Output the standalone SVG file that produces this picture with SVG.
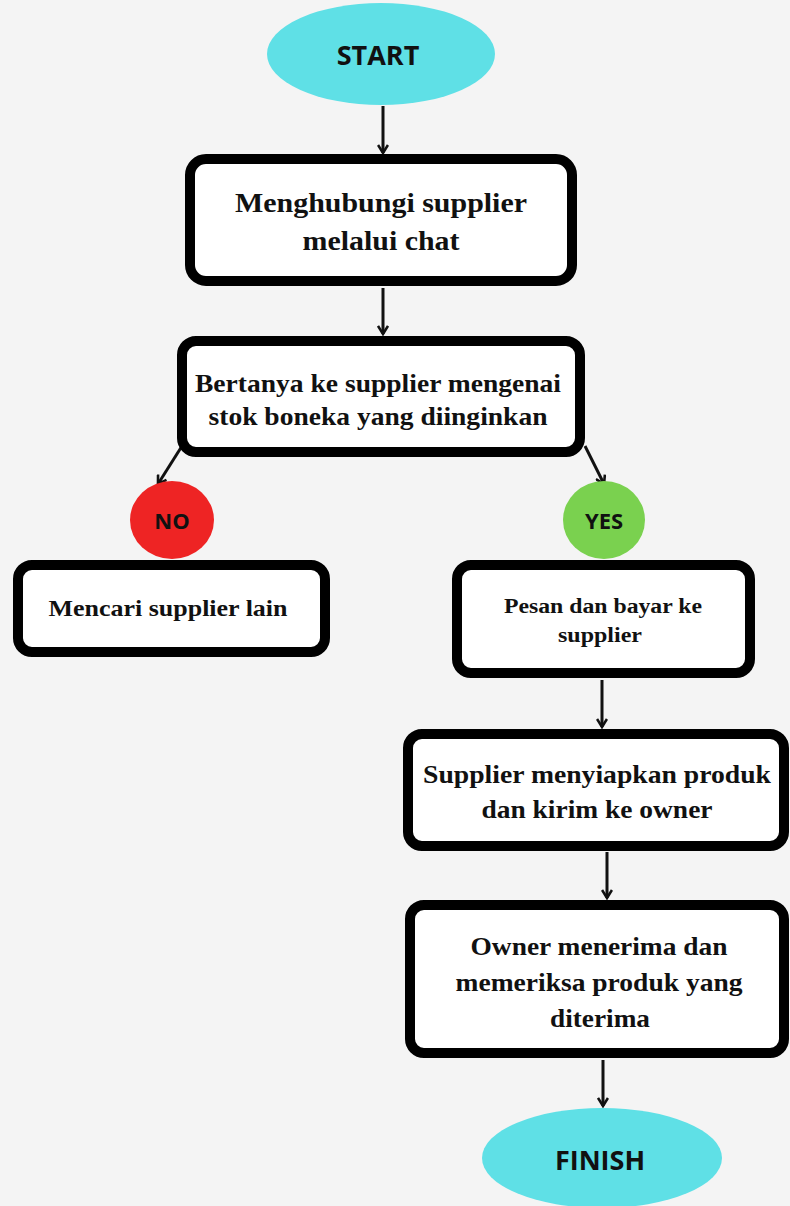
<svg xmlns="http://www.w3.org/2000/svg" width="790" height="1206" viewBox="0 0 790 1206">
<defs>
<style>
.box{fill:#ffffff;stroke:#000000;stroke-width:10}
.t{font-family:"Liberation Serif","Times New Roman",serif;font-weight:bold;fill:#111;text-anchor:middle}
.s{font-family:"Open Sans","Noto Sans",sans-serif;font-weight:bold;fill:#111;text-anchor:middle}
.c{stroke:#111;stroke-width:3;fill:none;marker-end:url(#ah)}
</style>
<marker id="ah" viewBox="0 0 12 12" refX="10" refY="6" markerWidth="12" markerHeight="12" markerUnits="userSpaceOnUse" orient="auto">
<polyline points="2,1 10,6 2,11" fill="none" stroke="#111" stroke-width="2.6"/>
</marker>
</defs>
<rect width="790" height="1206" fill="#f4f4f4"/>
<g id="connectors">
<line class="c" x1="383" y1="106" x2="383" y2="153"/>
<line class="c" x1="383" y1="288" x2="383" y2="334"/>
<line class="c" x1="182" y1="446" x2="158" y2="484"/>
<line class="c" x1="585" y1="446" x2="604" y2="484"/>
<line class="c" x1="602" y1="680" x2="602" y2="727"/>
<line class="c" x1="607" y1="852" x2="607" y2="898"/>
<line class="c" x1="603" y1="1060" x2="603" y2="1106"/>
</g>
<g id="start">
<ellipse cx="381" cy="54" rx="114" ry="51" fill="#5fe0e6"/>
<text class="s" x="378" y="65" font-size="27">START</text>
</g>
<g id="n1">
<rect class="box" x="190" y="159" width="382" height="122" rx="16" stroke-width="12"/>
<text class="t" x="381" y="212" font-size="27" textLength="292" lengthAdjust="spacingAndGlyphs">Menghubungi supplier</text>
<text class="t" x="381" y="250" font-size="27" textLength="157" lengthAdjust="spacingAndGlyphs">melalui chat</text>
</g>
<g id="n2">
<rect class="box" x="182" y="341" width="398" height="111" rx="14"/>
<text class="t" x="378" y="392" font-size="25" textLength="366" lengthAdjust="spacingAndGlyphs">Bertanya ke supplier mengenai</text>
<text class="t" x="378" y="425" font-size="25" textLength="339" lengthAdjust="spacingAndGlyphs">stok boneka yang diinginkan</text>
</g>
<g id="no">
<ellipse cx="172" cy="520" rx="42" ry="39" fill="#ee2424"/>
<text class="s" x="172" y="529" font-size="22">NO</text>
</g>
<g id="yes">
<ellipse cx="604" cy="520" rx="41" ry="39" fill="#7ad14f"/>
<text class="s" x="604" y="529" font-size="22">YES</text>
</g>
<g id="n3">
<rect class="box" x="18" y="565" width="307" height="87" rx="14"/>
<text class="t" x="168" y="616" font-size="23" textLength="239" lengthAdjust="spacingAndGlyphs">Mencari supplier lain</text>
</g>
<g id="n4">
<rect class="box" x="457" y="565" width="293" height="108" rx="14"/>
<text class="t" x="603" y="613" font-size="20" textLength="198" lengthAdjust="spacingAndGlyphs">Pesan dan bayar ke</text>
<text class="t" x="600" y="642" font-size="20" textLength="84" lengthAdjust="spacingAndGlyphs">supplier</text>
</g>
<g id="n5">
<rect class="box" x="408" y="734" width="376" height="112" rx="14"/>
<text class="t" x="597" y="783" font-size="25" textLength="348" lengthAdjust="spacingAndGlyphs">Supplier menyiapkan produk</text>
<text class="t" x="597" y="818" font-size="25" textLength="231" lengthAdjust="spacingAndGlyphs">dan kirim ke owner</text>
</g>
<g id="n6">
<rect class="box" x="410" y="905" width="374" height="148" rx="14"/>
<text class="t" x="599" y="955" font-size="25" textLength="257" lengthAdjust="spacingAndGlyphs">Owner menerima dan</text>
<text class="t" x="599" y="991" font-size="25" textLength="287" lengthAdjust="spacingAndGlyphs">memeriksa produk yang</text>
<text class="t" x="600" y="1027" font-size="25" textLength="100" lengthAdjust="spacingAndGlyphs">diterima</text>
</g>
<g id="finish">
<ellipse cx="602" cy="1158" rx="120" ry="50" fill="#5fe0e6"/>
<text class="s" x="600" y="1170" font-size="27">FINISH</text>
</g>
</svg>
